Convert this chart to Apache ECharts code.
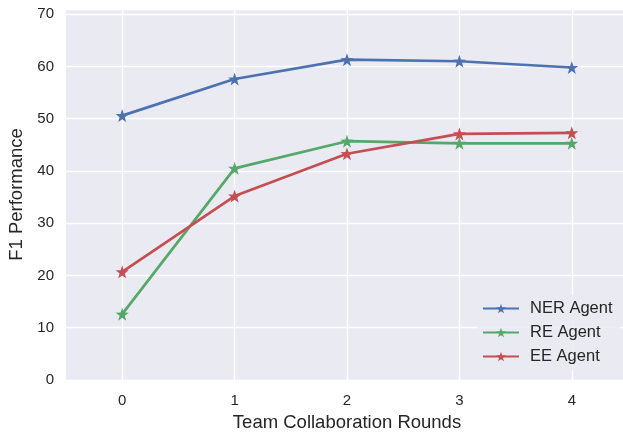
<!DOCTYPE html>
<html>
<head>
<meta charset="utf-8">
<script src="https://cdn.jsdelivr.net/npm/echarts@6/dist/echarts.min.js"></script>
<style>html,body{margin:0;padding:0;background:#fff;}#c{width:623px;height:432px;}</style>
</head>
<body>
<div id="c"></div>
<script>
const rounds = [0, 1, 2, 3, 4];
const nerAgent = [50.6, 57.6, 61.3, 61.0, 59.8];
const reAgent = [12.6, 40.5, 45.7, 45.3, 45.3];
const eeAgent = [20.7, 35.2, 43.3, 47.1, 47.3];
const seriesNames = ['NER Agent', 'RE Agent', 'EE Agent'];
const colors = ['#4c72b0', '#55a868', '#c44e52'];

const font = 'Liberation Sans, Arial, sans-serif';
const txt = '#262626';
const chart = echarts.init(document.getElementById('c'), null, {renderer: 'canvas'});
const star = 'path://M0,-10 L2.35,-3.24 L9.51,-3.09 L3.8,1.24 L5.88,8.09 L0,4 L-5.88,8.09 L-3.8,1.24 L-9.51,-3.09 L-2.35,-3.24 Z';
const mk = (name, vals, i) => ({
  name: name,
  type: 'line',
  data: rounds.map((r, k) => [r, vals[k]]),
  symbol: star,
  symbolSize: 13,
  lineStyle: {width: 2.7, color: colors[i]},
  itemStyle: {color: colors[i]},
  emphasis: {disabled: true},
  z: 3 + i
});
const series = [mk(seriesNames[0], nerAgent, 0), mk(seriesNames[1], reAgent, 1), mk(seriesNames[2], eeAgent, 2)];
series.push({
  type: 'line', data: [], silent: true, z: 1,
  markLine: {
    silent: true, symbol: 'none', label: {show: false}, z: 1,
    lineStyle: {color: '#ffffff', width: 1.3, type: 'solid'},
    data: rounds.map(r => ({xAxis: r}))
  }
});
chart.setOption({
  animation: false,
  backgroundColor: '#ffffff',
  grid: {left: 66, width: 562, top: 9, bottom: 52, outerBoundsMode: 'none', containLabel: false,
         show: true, backgroundColor: '#eaeaf2', borderWidth: 0},
  xAxis: {
    type: 'value', min: -0.5, max: 4.5,
    axisLine: {show: false}, axisTick: {show: false},
    splitLine: {show: false},
    axisLabel: {customValues: rounds, color: txt, fontSize: 15, fontFamily: font, margin: 13},
    name: 'Team Collaboration Rounds', nameLocation: 'middle', nameGap: 33,
    nameTextStyle: {color: txt, fontSize: 18.5, fontFamily: font}
  },
  yAxis: {
    type: 'value', min: 0, max: 71, interval: 10,
    axisLine: {show: false}, axisTick: {show: false},
    splitLine: {show: true, lineStyle: {color: '#ffffff', width: 1.3}},
    axisLabel: {color: txt, fontSize: 15, fontFamily: font, margin: 12, showMaxLabel: false},
    name: 'F1 Performance', nameLocation: 'middle', nameGap: 39,
    nameTextStyle: {color: txt, fontSize: 18.5, fontFamily: font}
  },
  legend: {
    data: seriesNames, orient: 'vertical', left: 477, top: 295, z: 20,
    itemWidth: 36, itemHeight: 12, itemGap: 7,
    padding: [5, 8, 5, 5],
    backgroundColor: 'rgba(234,234,242,0.85)',
    textStyle: {color: txt, fontSize: 16.5, fontFamily: font, padding: [0, 0, 0, 6]},
    inactiveColor: '#ccc'
  },
  series: series
});
</script>
</body>
</html>
